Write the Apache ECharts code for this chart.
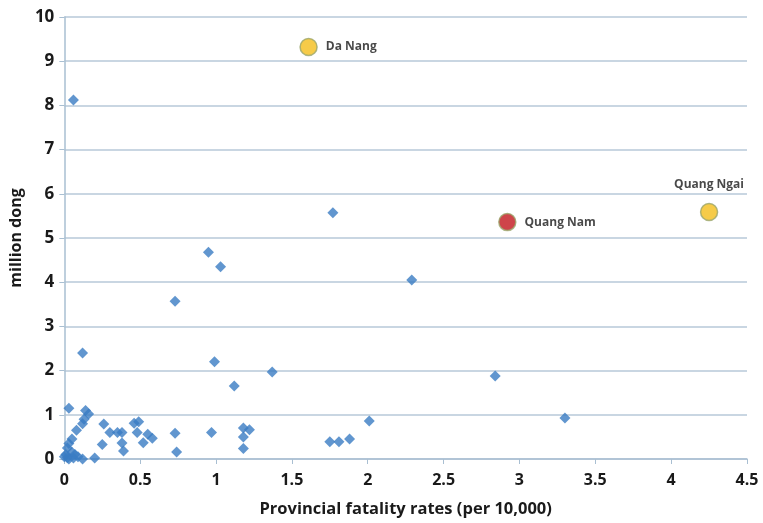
<!DOCTYPE html>
<html>
<head>
<meta charset="utf-8">
<script src="https://cdn.jsdelivr.net/npm/echarts@6/dist/echarts.min.js"></script>
<style>
    html, body { margin: 0; padding: 0; background: #fff; }
    #chart { width: 763px; height: 523px; }
</style>
</head>
<body>
<div id="chart"></div>
<script>
// provinces (blue diamonds)
var rateX = [0.06, 0.73, 0.95, 1.03, 1.77, 2.29, 0.99, 1.12, 1.37, 0.12, 2.84, 3.30, 2.01, 1.75, 1.81, 1.88,
    1.18, 1.22, 1.18, 1.18, 0.97, 0.73, 0.74, 0.46, 0.49, 0.48, 0.55, 0.58, 0.52, 0.26, 0.30, 0.35, 0.38,
    0.38, 0.39, 0.25, 0.20, 0.03, 0.14, 0.16, 0.13, 0.12, 0.08, 0.05, 0.03, 0.02, 0.01, 0.00, 0.03, 0.05,
    0.07, 0.09, 0.12, 0.02, 0.06];
var costY = [8.12, 3.57, 4.68, 4.35, 5.57, 4.05, 2.20, 1.65, 1.97, 2.40, 1.88, 0.93, 0.86, 0.39, 0.39, 0.45,
    0.70, 0.66, 0.50, 0.24, 0.60, 0.58, 0.16, 0.81, 0.84, 0.60, 0.56, 0.47, 0.37, 0.79, 0.60, 0.60, 0.60,
    0.36, 0.18, 0.33, 0.02, 1.15, 1.10, 1.02, 0.90, 0.80, 0.65, 0.45, 0.35, 0.25, 0.10, 0.05, 0.00, 0.15,
    0.10, 0.05, 0.00, 0.03, 0.02];

// highlighted provinces
var hlNames = ['Da Nang', 'Quang Nam', 'Quang Ngai'];
var hlX = [1.61, 2.92, 4.25];
var hlY = [9.32, 5.36, 5.59];
var hlColors = ['#F4BE1C', '#C2161D', '#F4BE1C'];
var hlLabelPos = ['right', 'right', 'top'];

var xTicks = [0, 0.5, 1, 1.5, 2, 2.5, 3, 3.5, 4, 4.5];

var blue = [];
for (var i = 0; i < rateX.length; i++) {
    blue.push([rateX[i], costY[i]]);
}
var special = [];
for (var j = 0; j < hlNames.length; j++) {
    special.push({
        name: hlNames[j],
        value: [hlX[j], hlY[j]],
        itemStyle: {color: hlColors[j], borderColor: '#9AA56A', borderWidth: 1.5},
        label: {position: hlLabelPos[j], distance: hlLabelPos[j] == 'top' ? 12 : 8}
    });
}

var chart = echarts.init(document.getElementById('chart'));
var fontFam = '"Open Sans", "Noto Sans", sans-serif';

var option = {
    backgroundColor: '#fff',
    animation: false,
    grid: {left: 57, right: 16, top: 17, bottom: 64, containLabel: false},
    xAxis: {
        type: 'value',
        min: 0, max: 4.5, interval: 0.5,
        name: 'Provincial fatality rates (per 10,000)',
        nameLocation: 'middle',
        nameGap: 42,
        nameTextStyle: {fontFamily: fontFam, fontWeight: 'bold', fontSize: 16.5, color: '#1a1a1a'},
        axisLine: {show: true, lineStyle: {color: '#A9BFD2', width: 1.5}},
        axisTick: {show: true, length: 5, lineStyle: {color: '#A9BFD2'}},
        splitLine: {show: false},
        axisLabel: {
            fontFamily: fontFam, fontWeight: 'bold', fontSize: 16, color: '#1a1a1a', margin: 13,
            formatter: function (v) { return xTicks.indexOf(v) >= 0 ? String(v) : ''; }
        }
    },
    yAxis: {
        type: 'value',
        min: 0, max: 10, interval: 1,
        name: 'million dong',
        nameLocation: 'middle',
        nameGap: 38,
        nameTextStyle: {fontFamily: fontFam, fontWeight: 'bold', fontSize: 16, color: '#1a1a1a'},
        axisLine: {show: true, lineStyle: {color: '#A9BFD2', width: 1.5}},
        axisTick: {show: true, length: 5, lineStyle: {color: '#A9BFD2'}},
        splitLine: {show: true, lineStyle: {color: '#B7C9D9', width: 1.5}},
        axisLabel: {fontFamily: fontFam, fontWeight: 'bold', fontSize: 17, color: '#1a1a1a', margin: 10}
    },
    series: [
        {
            name: 'provinces',
            type: 'scatter',
            symbol: 'diamond',
            symbolSize: [11, 11],
            itemStyle: {color: '#3A7CC3'},
            data: blue
        },
        {
            name: 'highlight',
            type: 'scatter',
            symbol: 'circle',
            symbolSize: 17,
            label: {
                show: true,
                formatter: '{b}',
                fontFamily: fontFam, fontWeight: 'bold', fontSize: 12, color: '#1a1a1a'
            },
            data: special
        }
    ]
};
chart.setOption(option);
</script>
</body>
</html>
